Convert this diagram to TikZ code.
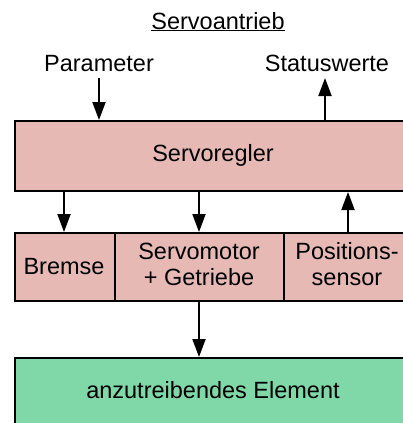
\documentclass[tikz,border=0pt]{standalone}
\usepackage{fontspec}
\setmainfont{Liberation Sans}
\usetikzlibrary{arrows.meta}
\definecolor{regpink}{HTML}{E6B9B5}
\definecolor{elemgreen}{HTML}{80D8A8}
\tikzset{
  blk/.style={draw=black, line width=2pt, inner sep=0pt, anchor=north west},
  pinkblk/.style={blk, fill=regpink},
  greenblk/.style={blk, fill=elemgreen},
  lbl/.style={font=\fontsize{23.5}{27}\selectfont, inner sep=0pt, anchor=base},
  flow/.style={line width=2pt, -{Triangle[width=13pt,length=18pt]}},
}
\begin{document}
\begin{tikzpicture}[x=1pt,y=-1pt]
  \useasboundingbox (0,0) rectangle (403,423);
  \clip (0,0) rectangle (403,423);

  % title and external signals
  \node[lbl] (title) at (218,29) {\underline{Servoantrieb}};
  \node[lbl] (param) at (99,71) {Parameter};
  \node[lbl] (status) at (327,71) {Statuswerte};

  % controller
  \node[pinkblk, minimum width=398pt, minimum height=70pt] (regler) at (14,120) {};
  \node[lbl] (reglertxt) at (213,161) {Servoregler};

  % drive row
  \node[pinkblk, minimum width=100pt, minimum height=68pt] (bremse) at (14,232) {};
  \node[pinkblk, minimum width=169pt, minimum height=68pt] (motor) at (114,232) {};
  \node[pinkblk, minimum width=129pt, minimum height=68pt] (sensor) at (283,232) {};
  \node[lbl] (bremsetxt) at (64,274) {Bremse};
  \node[lbl] (motortxta) at (199,259) {Servomotor};
  \node[lbl] (motortxtb) at (199,285.5) {+ Getriebe};
  \node[lbl] (sensortxta) at (347,259) {Positions-};
  \node[lbl] (sensortxtb) at (347,285.5) {sensor};

  % driven element
  \node[greenblk, minimum width=398pt, minimum height=72pt] (element) at (14,357) {};
  \node[lbl] (elementtxt) at (213,398) {anzutreibendes Element};

  % connectors
  \coordinate (pin) at (99,78);
  \coordinate (sout) at (325,78);
  \coordinate (bx) at (64,0);
  \coordinate (mx) at (199,0);
  \coordinate (px) at (348,0);
  \draw[flow] (pin) -- (pin |- regler.north);
  \draw[flow] (regler.north -| sout) -- (sout);
  \draw[flow] (regler.south -| bx) -- (bremse.north -| bx);
  \draw[flow] (regler.south -| mx) -- (motor.north -| mx);
  \draw[flow] (sensor.north -| px) -- (regler.south -| px);
  \draw[flow] (motor.south -| mx) -- (element.north -| mx);
\end{tikzpicture}
\end{document}
